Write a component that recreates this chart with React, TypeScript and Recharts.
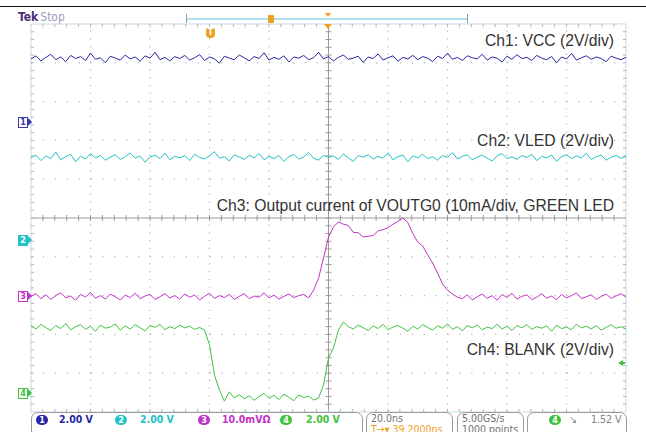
import React from "react";
import { LineChart, Line, XAxis, YAxis, ReferenceLine } from "recharts";

// screen samples, in graticule divisions (10 x 10 grid, 12 samples per horizontal division)
const ch1 = [
  4.10, 4.18, 4.05, 4.14, 4.22, 4.08, 4.15, 4.03, 4.19, 4.11,
  4.16, 4.06, 4.25, 4.09, 4.13, 4.00, 4.17, 4.12, 4.07, 4.20,
  4.10, 4.15, 4.04, 4.18, 4.12, 4.27, 4.08, 4.14, 4.05, 4.16,
  4.11, 4.19, 4.07, 4.13, 4.21, 4.06, 4.15, 4.10, 3.99, 4.17,
  4.12, 4.08, 4.20, 4.13, 4.05, 4.16, 4.11, 4.26, 4.07, 4.14,
  4.09, 4.18, 4.02, 4.15, 4.12, 4.19, 4.08, 4.13, 4.27, 4.10,
  4.16, 4.05, 4.14, 4.20, 4.09, 4.12, 4.17, 4.01, 4.15, 4.11,
  4.23, 4.07, 4.13, 4.18, 4.04, 4.14, 4.10, 4.19, 4.08, 4.16,
  4.12, 4.03, 4.17, 4.11, 4.25, 4.09, 4.14, 4.06, 4.18, 4.13,
  4.10, 4.22, 4.07, 4.15, 4.12, 4.02, 4.17, 4.09, 4.21, 4.11,
  4.14, 4.06, 4.19, 4.12, 4.08, 4.16, 4.00, 4.15, 4.10, 4.24,
  4.07, 4.13, 4.18, 4.09, 4.15, 4.11, 4.03, 4.17, 4.12, 4.08, 4.14,
];

const ch2 = [
  1.55, 1.62, 1.48, 1.60, 1.53, 1.70, 1.50, 1.58, 1.64, 1.45,
  1.59, 1.52, 1.66, 1.55, 1.61, 1.49, 1.57, 1.63, 1.51, 1.58,
  1.68, 1.54, 1.60, 1.44, 1.57, 1.62, 1.53, 1.67, 1.50, 1.59,
  1.55, 1.61, 1.48, 1.64, 1.56, 1.52, 1.60, 1.71, 1.54, 1.58,
  1.47, 1.63, 1.57, 1.51, 1.62, 1.55, 1.66, 1.50, 1.59, 1.53,
  1.61, 1.46, 1.58, 1.64, 1.52, 1.57, 1.69, 1.54, 1.49, 1.62,
  1.56, 1.60, 1.51, 1.65, 1.55, 1.46, 1.61, 1.57, 1.63, 1.52,
  1.59, 1.54, 1.68, 1.50, 1.58, 1.62, 1.45, 1.60, 1.55, 1.64,
  1.53, 1.58, 1.49, 1.61, 1.56, 1.69, 1.52, 1.59, 1.63, 1.50,
  1.57, 1.62, 1.54, 1.47, 1.60, 1.66, 1.53, 1.58, 1.51, 1.61,
  1.56, 1.64, 1.48, 1.59, 1.55, 1.62, 1.46, 1.58, 1.63, 1.53,
  1.60, 1.55, 1.67, 1.51, 1.58, 1.62, 1.49, 1.57, 1.61, 1.54, 1.59,
];

const ch3 = [
  -2.02, -1.95, -2.08, -1.98, -2.10, -2.00, -1.93, -2.06, -2.01, -2.12,
  -1.97, -2.04, -1.92, -2.07, -2.00, -2.09, -1.96, -2.03, -2.11, -1.99,
  -2.05, -1.94, -2.08, -2.01, -1.97, -2.10, -2.03, -1.95, -2.06, -2.00,
  -2.09, -1.96, -2.04, -1.99, -2.11, -2.02, -1.94, -2.07, -2.00, -2.05,
  -1.97, -2.10, -2.02, -1.95, -2.08, -2.01, -2.04, -1.93, -2.06, -1.99,
  -2.09, -2.02, -1.96, -2.05, -2.00, -1.97,
  -2.06, -1.86, -1.55, -1.03, -0.49, -0.23, -0.10, -0.16, -0.19, -0.37,
  -0.38, -0.49, -0.47, -0.45, -0.33, -0.30, -0.25, -0.16, -0.09, 0.00,
  -0.12, -0.40, -0.62, -0.72, -0.95, -1.16, -1.42, -1.70, -1.86, -1.96, -2.04,
  -2.08, -1.98, -2.11, -2.03, -1.96, -2.07, -2.00, -2.12, -1.97, -2.05,
  -1.94, -2.09, -2.02, -1.98, -2.10, -2.04, -1.95, -2.07, -2.01, -2.11,
  -1.97, -2.06, -2.00, -1.93, -2.08, -2.03, -1.98, -2.10, -2.02, -1.96,
  -2.07, -2.01, -1.95, -2.04,
];

const ch4 = [
  -2.78, -2.86, -2.74, -2.83, -2.90, -2.77, -2.85, -2.72, -2.88, -2.80,
  -2.75, -2.87, -2.79, -2.92, -2.76, -2.84, -2.81, -2.73, -2.89, -2.78,
  -2.86, -2.75, -2.83, -2.91, -2.77, -2.82, -2.74, -2.88, -2.80, -2.85,
  -2.76, -2.83, -2.79, -2.87, -2.82,
  -2.89, -3.27, -4.05, -4.43, -4.72, -4.48, -4.64,
  -4.55, -4.66, -4.58, -4.70, -4.60, -4.52, -4.65, -4.57, -4.68, -4.54,
  -4.62, -4.71, -4.56, -4.63, -4.59, -4.69,
  -4.64, -4.30, -3.61, -3.35, -2.89, -2.68,
  -2.80, -2.86, -2.76, -2.83, -2.90, -2.78, -2.85, -2.74, -2.88, -2.81,
  -2.77, -2.84, -2.92, -2.79, -2.86, -2.75, -2.82, -2.89, -2.78, -2.84,
  -2.73, -2.87, -2.80, -2.91, -2.77, -2.83, -2.76, -2.88, -2.81, -2.85,
  -2.74, -2.86, -2.79, -2.90, -2.77, -2.83, -2.75, -2.87, -2.80, -2.84,
  -2.78, -2.92, -2.76, -2.85, -2.81, -2.88, -2.74, -2.83, -2.79, -2.86,
  -2.77, -2.89, -2.82, -2.75, -2.84, -2.80, -2.87,
];

const channelLabels = [
  { text: "Ch1: VCC (2V/div)", top: 32 },
  { text: "Ch2: VLED (2V/div)", top: 132 },
  { text: "Ch3: Output current of VOUTG0 (10mA/div, GREEN LED", top: 197 },
  { text: "Ch4: BLANK (2V/div)", top: 341 },
];

const COLORS = {
  ch1: "#2626a6",
  ch2: "#22c2c6",
  ch3: "#c232c8",
  ch4: "#3ec23e",
  grid: "#b4b4b4",
  frame: "#c6d6e6",
  axis: "#9a9a9a",
  orange: "#f0a020",
};

const data = ch1.map((v, i) => ({ i, ch1: v, ch2: ch2[i], ch3: ch3[i], ch4: ch4[i] }));

const majors = [1, 2, 3, 4, 6, 7, 8, 9];
const minors = Array.from({ length: 49 }, (_, k) => k + 1);

const font = '"Liberation Sans", Arial, sans-serif';
const smallFont = '"DejaVu Sans Condensed", "DejaVu Sans", sans-serif';

function Badge({ n, color, left, top }: { n: number; color: string; left: number; top: number }) {
  return (
    <div
      style={{
        position: "absolute", left, top, width: 12, height: 10, borderRadius: 5,
        background: color, color: "#fff", fontSize: 9, fontWeight: 700, lineHeight: "10px",
        textAlign: "center", fontFamily: smallFont,
      }}
    >
      {n}
    </div>
  );
}

function ChMarker({ n, color, top, filled }: { n: number; color: string; top: number; filled?: boolean }) {
  return (
    <div style={{ position: "absolute", left: 18, top, height: 10, display: "flex", alignItems: "center" }}>
      <div
        style={{
          width: 8, height: 9, border: `1px solid ${color}`, background: filled ? color : "#fff",
          color: filled ? "#fff" : color, fontSize: 9, lineHeight: "9px", textAlign: "center",
          fontFamily: smallFont, fontWeight: 700,
        }}
      >
        {n}
      </div>
      <div
        style={{
          width: 0, height: 0, borderTop: "4px solid transparent", borderBottom: "4px solid transparent",
          borderLeft: `4px solid ${color}`,
        }}
      />
    </div>
  );
}

export default function App() {
  return (
    <div style={{ position: "absolute", left: 0, top: 0, width: 646, height: 432, background: "#fff", overflow: "hidden" }}>
      <LineChart width={646} height={432} data={data} margin={{ top: 24, right: 20, bottom: 20, left: 31 }}>
        <XAxis type="number" dataKey="i" domain={[0, 120]} hide />
        <YAxis type="number" domain={[-5, 5]} hide />

        {majors.map((k) => (
          <ReferenceLine key={`vx${k}`} x={k * 12} stroke={COLORS.grid} strokeWidth={1.2} strokeDasharray="1.2 6.56" />
        ))}
        {majors.map((k) => (
          <ReferenceLine key={`hy${k}`} y={k - 5} stroke={COLORS.grid} strokeWidth={1.2} strokeDasharray="1.2 10.7" />
        ))}

        <ReferenceLine x={60} stroke={COLORS.axis} />
        <ReferenceLine y={0} stroke={COLORS.axis} />
        {minors.map((k) => (
          <ReferenceLine
            key={`tx${k}`}
            ifOverflow="visible"
            segment={[{ x: k * 2.4, y: -0.08 }, { x: k * 2.4, y: 0.08 }]}
            stroke={COLORS.axis}
          />
        ))}
        {minors.map((k) => (
          <ReferenceLine
            key={`ty${k}`}
            ifOverflow="visible"
            segment={[{ x: 59.4, y: k * 0.2 - 5 }, { x: 60.6, y: k * 0.2 - 5 }]}
            stroke={COLORS.axis}
          />
        ))}

        {/* frame and its inward ticks */}
        <ReferenceLine x={0} stroke={COLORS.frame} />
        <ReferenceLine x={120} stroke={COLORS.frame} />
        <ReferenceLine y={5} stroke={COLORS.frame} />
        <ReferenceLine y={-5} stroke={COLORS.frame} />
        {minors.map((k) => (
          <ReferenceLine key={`et${k}`} ifOverflow="visible" segment={[{ x: k * 2.4, y: 5 }, { x: k * 2.4, y: 4.92 }]} stroke={COLORS.grid} />
        ))}
        {minors.map((k) => (
          <ReferenceLine key={`eb${k}`} ifOverflow="visible" segment={[{ x: k * 2.4, y: -5 }, { x: k * 2.4, y: -4.92 }]} stroke={COLORS.grid} />
        ))}
        {minors.map((k) => (
          <ReferenceLine key={`el${k}`} ifOverflow="visible" segment={[{ x: 0, y: k * 0.2 - 5 }, { x: 0.6, y: k * 0.2 - 5 }]} stroke={COLORS.grid} />
        ))}
        {minors.map((k) => (
          <ReferenceLine key={`er${k}`} ifOverflow="visible" segment={[{ x: 120, y: k * 0.2 - 5 }, { x: 119.4, y: k * 0.2 - 5 }]} stroke={COLORS.grid} />
        ))}

        <Line dataKey="ch1" stroke={COLORS.ch1} strokeWidth={1} dot={false} isAnimationActive={false} />
        <Line dataKey="ch2" stroke={COLORS.ch2} strokeWidth={1} dot={false} isAnimationActive={false} />
        <Line dataKey="ch3" stroke={COLORS.ch3} strokeWidth={1} dot={false} isAnimationActive={false} />
        <Line dataKey="ch4" stroke={COLORS.ch4} strokeWidth={1} dot={false} isAnimationActive={false} />
      </LineChart>

      {/* header */}
      <div style={{ position: "absolute", left: 0, top: 6, width: 646, height: 1, background: "#111" }} />
      <div style={{ position: "absolute", left: 18, top: 11, fontFamily: smallFont, fontSize: 12, lineHeight: "13px" }}>
        <span style={{ color: "#4b2a78", fontWeight: 700 }}>Tek</span>
        <span style={{ color: "#9c9cc4", marginLeft: 2 }}>Stop</span>
      </div>
      <div style={{ position: "absolute", left: 186, top: 14, width: 1, height: 9, background: "#999" }} />
      <div style={{ position: "absolute", left: 187, top: 18, width: 280, height: 2, background: "#aee2ea" }} />
      <div style={{ position: "absolute", left: 467, top: 14, width: 1, height: 9, background: "#999" }} />
      <div style={{ position: "absolute", left: 268, top: 15, width: 6, height: 8, background: COLORS.orange, borderRadius: 1 }} />
      <div style={{ position: "absolute", left: 325, top: 13, width: 0, height: 0, borderLeft: "3px solid transparent", borderRight: "3px solid transparent", borderTop: `4px solid ${COLORS.orange}` }} />
      <div style={{ position: "absolute", left: 324, top: 24, width: 0, height: 0, borderLeft: "4px solid transparent", borderRight: "4px solid transparent", borderTop: `5px solid ${COLORS.orange}` }} />
      <div
        style={{
          position: "absolute", left: 206, top: 28, width: 9, height: 10, background: COLORS.orange,
          borderRadius: "2px 2px 4px 4px", color: "#fff", fontSize: 8, fontWeight: 700, lineHeight: "10px",
          textAlign: "center", fontFamily: smallFont,
        }}
      >
        T
      </div>

      {/* channel labels */}
      {channelLabels.map((l) => (
        <div key={l.text} style={{ position: "absolute", right: 32, top: l.top, fontFamily: font, fontSize: 15.7, lineHeight: "18px", color: "#333", whiteSpace: "nowrap" }}>
          {l.text}
        </div>
      ))}

      {/* ground markers */}
      <ChMarker n={1} color="#3a3aa8" top={117} />
      <ChMarker n={2} color={COLORS.ch2} top={235} filled />
      <ChMarker n={3} color={COLORS.ch3} top={291} />
      <ChMarker n={4} color={COLORS.ch4} top={388} />
      <div style={{ position: "absolute", left: 618, top: 360, width: 0, height: 0, borderTop: "3px solid transparent", borderBottom: "3px solid transparent", borderRight: `5px solid ${COLORS.ch4}` }} />
      <div style={{ position: "absolute", left: 622, top: 362, width: 3, height: 2, background: COLORS.ch4 }} />

      {/* status bar */}
      <div style={{ position: "absolute", left: 31, top: 412, width: 330, height: 24, border: "1px solid #9a9a9a", borderRadius: 7 }} />
      <Badge n={1} color={COLORS.ch1} left={36} top={415} />
      <Badge n={2} color={COLORS.ch2} left={115} top={415} />
      <Badge n={3} color={COLORS.ch3} left={198} top={415} />
      <Badge n={4} color={COLORS.ch4} left={280} top={415} />
      {[
        { t: "2.00 V", c: COLORS.ch1, l: 59 },
        { t: "2.00 V", c: COLORS.ch2, l: 140 },
        { t: "10.0mVΩ", c: COLORS.ch3, l: 222 },
        { t: "2.00 V", c: COLORS.ch4, l: 306 },
      ].map((s, k) => (
        <div key={k} style={{ position: "absolute", left: s.l, top: 413, fontFamily: smallFont, fontSize: 10.5, fontWeight: 700, lineHeight: "12px", color: s.c }}>
          {s.t}
        </div>
      ))}

      <div style={{ position: "absolute", left: 366, top: 412, width: 85, height: 24, border: "1px solid #9a9a9a", borderRadius: 7 }} />
      <div style={{ position: "absolute", left: 371, top: 413, fontFamily: smallFont, fontSize: 10.5, lineHeight: "11px", color: "#707070" }}>
        20.0ns
        <div style={{ color: COLORS.orange }}>T→▾ 39.2000ns</div>
      </div>

      <div style={{ position: "absolute", left: 457, top: 412, width: 65, height: 24, border: "1px solid #9a9a9a", borderRadius: 7 }} />
      <div style={{ position: "absolute", left: 462, top: 413, fontFamily: smallFont, fontSize: 10.5, lineHeight: "11px", color: "#707070" }}>
        5.00GS/s
        <div>1000 points</div>
      </div>

      <div style={{ position: "absolute", left: 527, top: 412, width: 98, height: 24, border: "1px solid #9a9a9a", borderRadius: 7 }} />
      <Badge n={4} color={COLORS.ch4} left={549} top={415} />
      <div style={{ position: "absolute", left: 569, top: 413, fontFamily: smallFont, fontSize: 10.5, lineHeight: "12px", color: "#808080" }}>↘</div>
      <div style={{ position: "absolute", left: 591, top: 413, fontFamily: smallFont, fontSize: 10.5, lineHeight: "12px", color: "#808080" }}>1.52 V</div>
    </div>
  );
}
